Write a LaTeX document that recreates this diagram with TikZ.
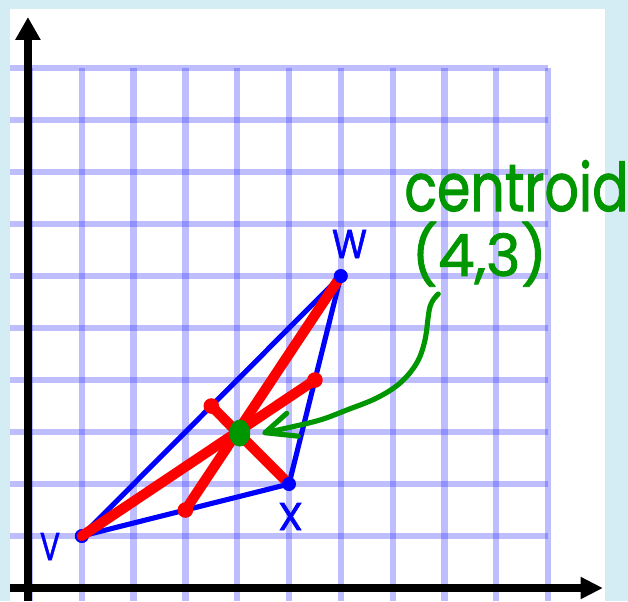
\documentclass[tikz,border=0pt]{standalone}
\usepackage{fontspec}
\setmainfont{Poppins}
\newfontfamily\handfont{Poppins}[FakeBold=1.5]
\usetikzlibrary{arrows.meta,shapes.geometric}
\definecolor{bgcyan}{RGB}{212,236,243}
\definecolor{gridblue}{RGB}{40,40,255}
\definecolor{trired}{RGB}{255,0,0}
\definecolor{triblue}{RGB}{0,0,255}
\definecolor{labgreen}{RGB}{0,150,0}
\begin{document}
\begin{tikzpicture}[x=0.99615cm,y=1cm,
  gridline/.style={draw=gridblue, opacity=0.3, line width=3.4pt},
  axisline/.style={draw=black, line width=4.8pt},
  side/.style={draw=triblue, line width=2.8pt, line cap=round, line join=round},
  median/.style={draw=trired, line width=5.6pt, line cap=round},
  vdot/.style={circle, fill=triblue, minimum size=0.27cm, inner sep=0pt},
  mdot/.style={circle, fill=trired, minimum size=0.3cm, inner sep=0pt},
  cdot/.style={ellipse, fill=labgreen, minimum width=0.4cm, minimum height=0.52cm, inner sep=0pt},
  arrowline/.style={draw=labgreen, line width=2.8pt, line cap=round, line join=round},
  greentext/.style={text=labgreen, inner sep=0pt, font=\handfont},
  bluetext/.style={text=triblue, inner sep=0pt, font=\handfont}]
\useasboundingbox (-0.5792,-0.25) rectangle (11.544,11.308);
\fill[bgcyan] (-0.5792,-0.25) rectangle (11.544,11.308);
\fill[white] (-0.386,-0.25) rectangle (11.10,11.135);
% grid
\foreach \i in {0,...,10} {
  \draw[gridline] (\i,-0.25) -- (\i,10);
  \draw[gridline] (-0.386,\i) -- (10,\i);
}
% axes
\draw[axisline, -{Triangle[length=0.44cm,width=0.46cm]}] (-0.04,-0.25) -- (-0.04,10.98);
\draw[axisline, -{Triangle[length=0.43cm,width=0.40cm]}] (-0.386,0) -- (11.06,0);
% triangle
\coordinate (V) at (1,1);
\coordinate (X) at (5,2);
\coordinate (W) at (6,6);
\coordinate (mVW) at (3.5,3.5);
\coordinate (mVX) at (3,1.5);
\coordinate (mWX) at (5.5,4);
\draw[side] (V) -- (W) -- (X) -- cycle;
\node[vdot] (Vdot) at (V) {};
% medians
\draw[median] (V) -- (mWX);
\draw[median] (W) -- (mVX);
\draw[median] (X) -- (mVW);
\node[vdot] (Wdot) at (W) {};
\node[vdot] (Xdot) at (X) {};
\node[mdot] (mVWdot) at (mVW) {};
\node[mdot] (mVXdot) at (mVX) {};
\node[mdot] (mWXdot) at (mWX) {};
% centroid
\node[cdot] (G) at (4.05,2.98) {};
% labels
\node[bluetext] (Wlab) at (6.168,6.615) {\resizebox{0.67cm}{0.54cm}{W}};
\node[bluetext] (Vlab) at (0.386,0.798) {\resizebox{0.385cm}{0.52cm}{V}};
\node[bluetext] (Xlab) at (5.029,1.375) {\resizebox{0.48cm}{0.52cm}{X}};
\node[greentext, anchor=base west] (clab) at (7.22,7.25) {\resizebox{4.31cm}{0.98cm}{centroid}};
\node[greentext] (plab) at (8.672,6.419) {\resizebox*{2.6cm}{1.25cm}{(4,3)}};
% green arrow
\coordinate (A0) at (7.882,5.654);
\coordinate (A1) at (4.537,2.987);
\coordinate (B1) at (4.956,3.36);
\coordinate (B2) at (5.18,2.92);
\draw[arrowline] plot[smooth, tension=0.6] coordinates {(A0) (7.722,5.410) (7.625,4.769) (7.465,4.327) (7.143,3.942) (6.693,3.654) (6.114,3.423) (5.598,3.231) (4.956,3.077) (A1)};
\draw[arrowline] (B1) -- (A1) -- (B2);
\end{tikzpicture}
\end{document}
